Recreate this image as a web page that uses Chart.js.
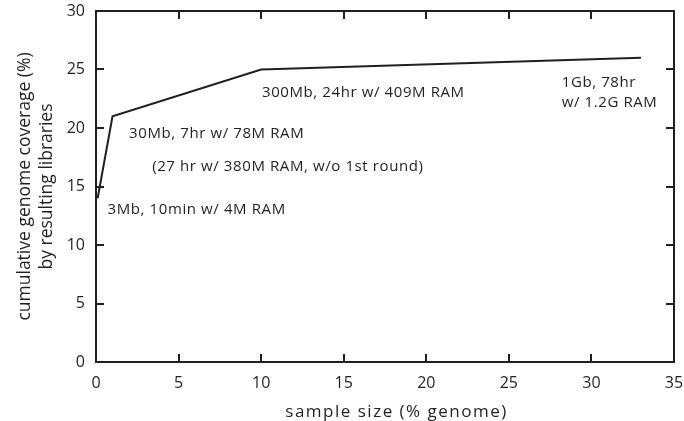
<!DOCTYPE html>
<html><head><meta charset="utf-8">
<script src="https://cdn.jsdelivr.net/npm/chart.js@4/dist/chart.umd.min.js"></script>
<style>html,body{margin:0;padding:0;background:#fff}</style>
</head><body>
<canvas id="c" width="684" height="421"></canvas>
<script>
// ---- data ----
const sampleSizePct = [0.1, 1, 10, 33];
const coveragePct = [14, 21, 25, 26];
const xTickValues = [0, 5, 10, 15, 20, 25, 30, 35];
const yTickValues = [0, 5, 10, 15, 20, 25, 30];
const xTitle = "sample size (% genome)";
const yTitle = ["cumulative genome coverage (%)", "by resulting libraries"];
const annotationLines = [
  ["3Mb, 10min w/ 4M RAM"],
  ["30Mb, 7hr w/ 78M RAM"],
  ["(27 hr w/ 380M RAM, w/o 1st round)"],
  ["300Mb, 24hr w/ 409M RAM"],
  ["1Gb, 78hr", "w/ 1.2G RAM"]
];
const annotationX = [0.7, 2.0, 3.4, 10.05, 28.2];
const annotationY = [13.0, 19.5, 16.7, 23.0, 23.05];
const xTitleCenterAt = 18.2;

const FONT = "'Open Sans', 'Noto Sans', sans-serif";
const INK = '#231f20';

const framePlugin = {
  id: 'frame',
  afterDraw(chart) {
    const {ctx, chartArea: a, scales: {x, y}} = chart;
    ctx.save();
    ctx.strokeStyle = INK;
    ctx.lineWidth = 2;
    ctx.strokeRect(a.left, a.top, a.right - a.left, a.bottom - a.top);
    const T = 8;
    ctx.beginPath();
    xTickValues.forEach(v => {
      const px = Math.round(x.getPixelForValue(v));
      ctx.moveTo(px, a.bottom); ctx.lineTo(px, a.bottom - T);
      ctx.moveTo(px, a.top); ctx.lineTo(px, a.top + T);
    });
    yTickValues.forEach(v => {
      const py = Math.round(y.getPixelForValue(v));
      ctx.moveTo(a.left, py); ctx.lineTo(a.left + T, py);
      ctx.moveTo(a.right, py); ctx.lineTo(a.right - T, py);
    });
    ctx.stroke();
    // annotations
    ctx.fillStyle = INK;
    ctx.font = "15px " + FONT;
    ctx.letterSpacing = '0.6px';
    ctx.textAlign = 'left';
    ctx.textBaseline = 'middle';
    const lh = 20;
    annotationLines.forEach((lines, i) => {
      const px = x.getPixelForValue(annotationX[i]);
      const cy = y.getPixelForValue(annotationY[i]);
      const y0 = cy - (lines.length - 1) * lh / 2;
      lines.forEach((t, k) => ctx.fillText(t, px, y0 + k * lh));
    });
    // x axis title
    ctx.font = "17px " + FONT;
    ctx.letterSpacing = '1.5px';
    ctx.textAlign = 'center';
    ctx.fillText(xTitle, x.getPixelForValue(xTitleCenterAt), x.bottom - 9);
    ctx.restore();
  }
};

new Chart(document.getElementById('c'), {
  type: 'scatter',
  data: {
    datasets: [{
      data: sampleSizePct.map((v, i) => ({x: v, y: coveragePct[i]})),
      showLine: true,
      borderColor: INK,
      borderWidth: 2,
      pointRadius: 0,
      fill: false,
      tension: 0
    }]
  },
  options: {
    responsive: false,
    animation: false,
    devicePixelRatio: 1,
    layout: {padding: {left: 0, top: 11, right: 10, bottom: 0}},
    plugins: {legend: {display: false}, tooltip: {enabled: false}},
    scales: {
      x: {
        type: 'linear', min: 0, max: 35,
        afterFit: s => { s.height = 59; s.paddingLeft = 0; s.paddingRight = 0; },
        afterBuildTicks: s => { s.ticks = xTickValues.map(v => ({value: v})); },
        ticks: {color: INK, font: {family: FONT, size: 16}, padding: 12, maxRotation: 0},
        grid: {drawOnChartArea: false, drawTicks: false},
        border: {display: false},
        title: {display: false}
      },
      y: {
        type: 'linear', min: 0, max: 30,
        afterFit: s => { s.width = 96; s.paddingTop = 0; s.paddingBottom = 0; },
        afterBuildTicks: s => { s.ticks = yTickValues.map(v => ({value: v})); },
        ticks: {color: INK, font: {family: FONT, size: 16}, padding: 11},
        grid: {drawOnChartArea: false, drawTicks: false},
        border: {display: false},
        title: {display: true, text: yTitle, color: INK, font: {family: FONT, size: 17.5, lineHeight: 1.25}, padding: {top: 14, bottom: 0}}
      }
    }
  },
  plugins: [framePlugin]
});
</script>
</body></html>
